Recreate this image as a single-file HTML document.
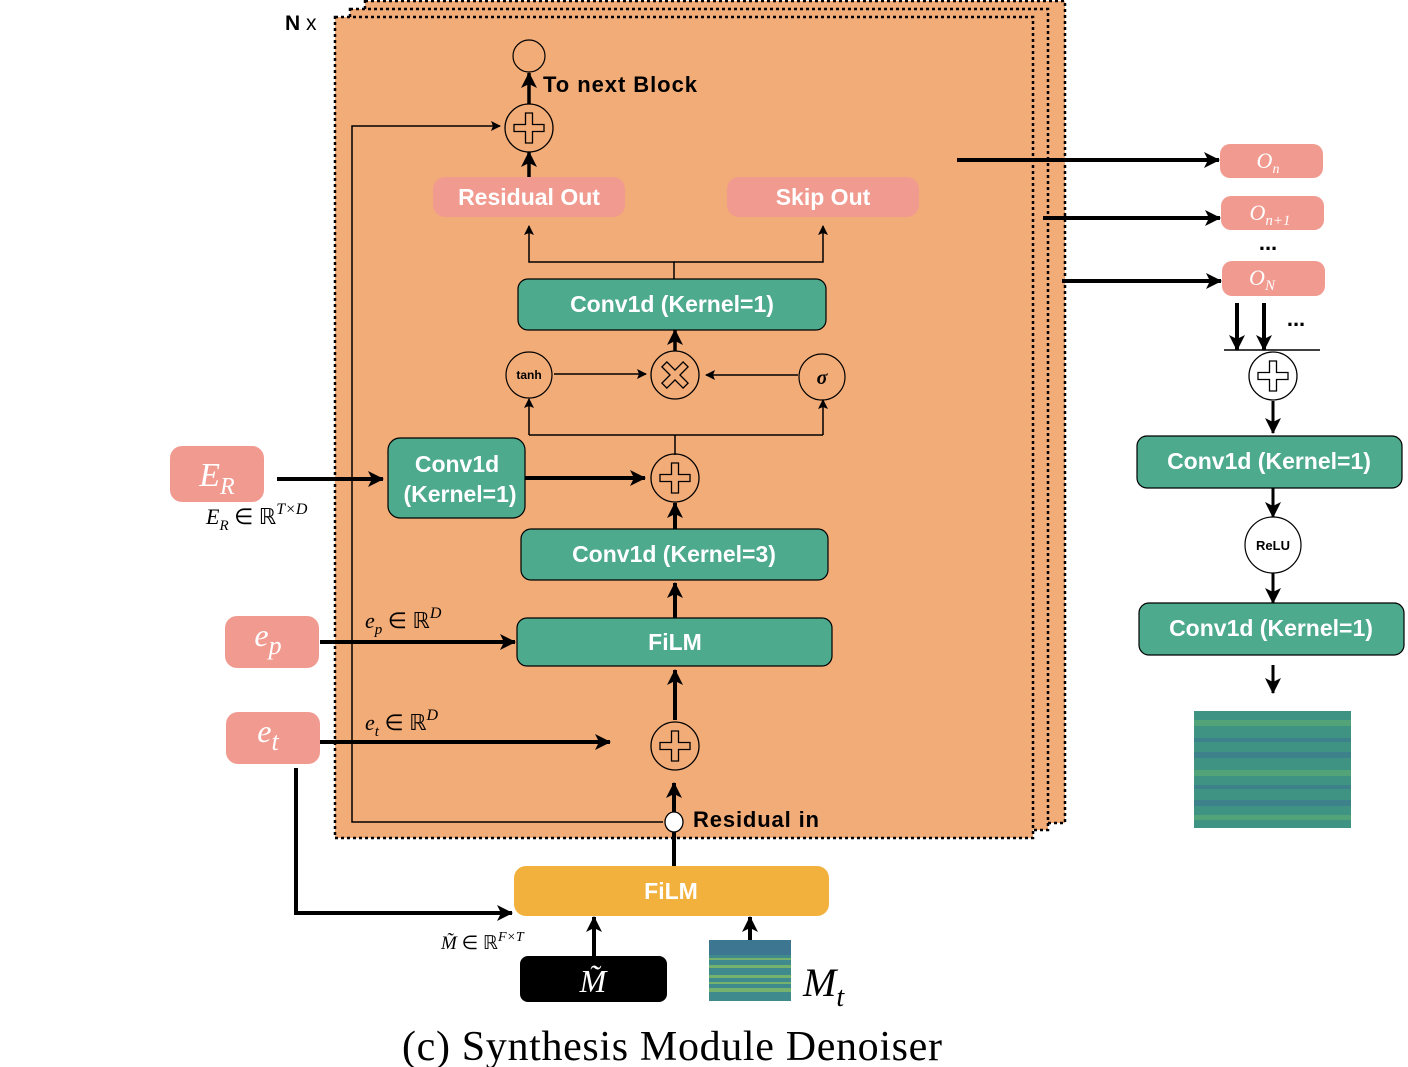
<!DOCTYPE html>
<html><head><meta charset="utf-8"><style>
html,body{margin:0;padding:0;background:#fff;}
svg{display:block;}
.s{font-family:"Liberation Sans",sans-serif;font-weight:bold;fill:#fff;text-anchor:middle;}
.m{font-family:"Liberation Serif",serif;font-style:italic;}
</style></head><body>
<svg width="1408" height="1067" viewBox="0 0 1408 1067" xmlns="http://www.w3.org/2000/svg">
<defs>
<marker id="a" markerUnits="userSpaceOnUse" markerWidth="16" markerHeight="16" refX="15" refY="8" orient="auto"><path d="M0,0 L16,8 L0,16 L4,8 z" fill="#000"/></marker>
<marker id="b" markerUnits="userSpaceOnUse" markerWidth="10" markerHeight="10" refX="9" refY="5" orient="auto"><path d="M0,0 L10,5 L0,10 L2,5 z" fill="#000"/></marker>
<g id="plus"><circle r="24" fill="none" stroke="#000" stroke-width="1.3"/><path d="M-3.5,-15 h7 v11.5 h11.5 v7 h-11.5 v11.5 h-7 v-11.5 h-11.5 v-7 h11.5 z" fill="none" stroke="#000" stroke-width="1.3"/></g>
<g id="plusw"><circle r="24" fill="#fff" stroke="#000" stroke-width="1.3"/><path d="M-3.5,-15 h7 v11.5 h11.5 v7 h-11.5 v11.5 h-7 v-11.5 h-11.5 v-7 h11.5 z" fill="none" stroke="#000" stroke-width="1.3"/></g>
</defs>
<rect x="365" y="1" width="700" height="822" fill="#F2AC78" stroke="#000" stroke-width="2.5" stroke-dasharray="3,3"/>
<rect x="350" y="9" width="698" height="821" fill="#F2AC78" stroke="#000" stroke-width="2.5" stroke-dasharray="3,3"/>
<rect x="335" y="17" width="698" height="821" fill="#F2AC78" stroke="#000" stroke-width="2.5" stroke-dasharray="3,3"/>
<text x="285" y="30" font-family="Liberation Sans,sans-serif" font-size="21" font-weight="bold">N <tspan font-weight="normal">x</tspan></text>

<circle cx="529" cy="56" r="16" fill="none" stroke="#000" stroke-width="1.2"/>
<line x1="529" y1="104" x2="529" y2="73" stroke="#000" stroke-width="3.5" marker-end="url(#a)"/>
<text x="543" y="92" font-family="Liberation Sans,sans-serif" font-size="22" font-weight="bold" textLength="154">To next Block</text>
<use href="#plus" x="529" y="128"/>
<line x1="529" y1="178" x2="529" y2="152" stroke="#000" stroke-width="3.5" marker-end="url(#a)"/>
<polyline points="663,822 352,822 352,126 500,126" fill="none" stroke="#000" stroke-width="1.5" marker-end="url(#b)"/>

<rect x="433" y="177" width="192" height="40" rx="12" fill="#F19A90"/>
<text x="529" y="205" class="s" font-size="23">Residual Out</text>
<rect x="727" y="177" width="192" height="40" rx="12" fill="#F19A90"/>
<text x="823" y="205" class="s" font-size="23">Skip Out</text>
<polyline points="674,279 674,262 529,262 529,226" fill="none" stroke="#000" stroke-width="1.5" marker-end="url(#b)"/>
<polyline points="674,262 823,262 823,226" fill="none" stroke="#000" stroke-width="1.5" marker-end="url(#b)"/>

<rect x="518" y="279" width="308" height="51" rx="10" fill="#4DAA8D" stroke="#000" stroke-width="1.2"/>
<text x="672" y="312" class="s" font-size="23">Conv1d (Kernel=1)</text>
<line x1="675" y1="351" x2="675" y2="330" stroke="#000" stroke-width="3.5" marker-end="url(#a)"/>

<circle cx="529" cy="375" r="23" fill="none" stroke="#000" stroke-width="1.2"/>
<text x="529" y="379" font-family="Liberation Sans,sans-serif" font-size="12" font-weight="bold" text-anchor="middle">tanh</text>
<g transform="translate(675,375)"><circle r="24" fill="none" stroke="#000" stroke-width="1.3"/><path d="M-3.5,-15 h7 v11.5 h11.5 v7 h-11.5 v11.5 h-7 v-11.5 h-11.5 v-7 h11.5 z" transform="rotate(45)" fill="none" stroke="#000" stroke-width="1.3"/></g>
<circle cx="822" cy="377" r="23" fill="none" stroke="#000" stroke-width="1.2"/>
<text x="822" y="384" class="m" font-size="20" text-anchor="middle" font-weight="bold">σ</text>
<line x1="554" y1="374" x2="646" y2="374" stroke="#000" stroke-width="1.5" marker-end="url(#b)"/>
<line x1="798" y1="375" x2="706" y2="375" stroke="#000" stroke-width="1.5" marker-end="url(#b)"/>
<polyline points="529,435 529,399" fill="none" stroke="#000" stroke-width="1.5" marker-end="url(#b)"/>
<polyline points="823,435 823,400" fill="none" stroke="#000" stroke-width="1.5" marker-end="url(#b)"/>
<polyline points="529,435 823,435" fill="none" stroke="#000" stroke-width="1.5"/>
<line x1="675" y1="435" x2="675" y2="455" stroke="#000" stroke-width="1.5"/>

<use href="#plus" x="675" y="478"/>
<rect x="388" y="438" width="137" height="80" rx="12" fill="#4DAA8D" stroke="#000" stroke-width="1.2"/>
<text x="457" y="472" class="s" font-size="23">Conv1d</text>
<text x="460" y="502" class="s" font-size="23">(Kernel=1)</text>
<line x1="525" y1="478" x2="645" y2="478" stroke="#000" stroke-width="4" marker-end="url(#a)"/>
<rect x="170" y="446" width="94" height="56" rx="12" fill="#F19A90"/>
<text x="217" y="486" class="m" font-size="34" fill="#fff" text-anchor="middle">E<tspan font-size="24" dy="8">R</tspan></text>
<line x1="277" y1="479" x2="383" y2="479" stroke="#000" stroke-width="4" marker-end="url(#a)"/>
<text x="206" y="524" class="m" font-size="22">E<tspan font-size="15" dy="6">R</tspan><tspan dy="-6" font-style="normal"> ∈ ℝ</tspan><tspan font-size="16" dy="-10">T×D</tspan></text>

<rect x="521" y="529" width="307" height="51" rx="10" fill="#4DAA8D" stroke="#000" stroke-width="1.2"/>
<text x="674" y="562" class="s" font-size="23">Conv1d (Kernel=3)</text>
<line x1="675" y1="529" x2="675" y2="503" stroke="#000" stroke-width="4" marker-end="url(#a)"/>

<rect x="517" y="618" width="315" height="48" rx="10" fill="#4DAA8D" stroke="#000" stroke-width="1.2"/>
<text x="675" y="650" class="s" font-size="23">FiLM</text>
<line x1="675" y1="618" x2="675" y2="583" stroke="#000" stroke-width="4" marker-end="url(#a)"/>
<rect x="225" y="616" width="94" height="52" rx="12" fill="#F19A90"/>
<text x="268" y="646" class="m" font-size="32" fill="#fff" text-anchor="middle">e<tspan font-size="26" dy="8">p</tspan></text>
<line x1="320" y1="642" x2="515" y2="642" stroke="#000" stroke-width="4" marker-end="url(#a)"/>
<text x="365" y="628" class="m" font-size="22">e<tspan font-size="15" dy="6">p</tspan><tspan dy="-6" font-style="normal"> ∈ ℝ</tspan><tspan font-size="16" dy="-10">D</tspan></text>

<use href="#plus" x="675" y="746"/>
<line x1="675" y1="720" x2="675" y2="670" stroke="#000" stroke-width="4" marker-end="url(#a)"/>
<rect x="226" y="712" width="94" height="52" rx="12" fill="#F19A90"/>
<text x="268" y="742" class="m" font-size="32" fill="#fff" text-anchor="middle">e<tspan font-size="26" dy="8">t</tspan></text>
<line x1="320" y1="742" x2="610" y2="742" stroke="#000" stroke-width="4" marker-end="url(#a)"/>
<text x="365" y="730" class="m" font-size="22">e<tspan font-size="15" dy="6">t</tspan><tspan dy="-6" font-style="normal"> ∈ ℝ</tspan><tspan font-size="16" dy="-10">D</tspan></text>

<line x1="674" y1="866" x2="674" y2="783" stroke="#000" stroke-width="4" marker-end="url(#a)"/>
<ellipse cx="674" cy="822" rx="9" ry="10" fill="#fff" stroke="#000" stroke-width="1.3"/>
<text x="693" y="827" font-family="Liberation Sans,sans-serif" font-size="22" font-weight="bold" textLength="126">Residual in</text>

<rect x="514" y="866" width="315" height="50" rx="12" fill="#F2B13C"/>
<text x="671" y="899" class="s" font-size="23">FiLM</text>
<polyline points="296,768 296,913 512,913" fill="none" stroke="#000" stroke-width="4" marker-end="url(#a)"/>
<text x="441" y="949" class="m" font-size="19">M̃<tspan font-style="normal"> ∈ ℝ</tspan><tspan font-size="14" dy="-8">F×T</tspan></text>
<rect x="520" y="956" width="147" height="46" rx="8" fill="#000"/>
<text x="593" y="992" class="m" font-size="32" fill="#fff" text-anchor="middle">M̃</text>
<line x1="594" y1="956" x2="594" y2="917" stroke="#000" stroke-width="4" marker-end="url(#a)"/>
<rect x="709" y="940" width="82" height="61" fill="#3f8a8c"/>
<g fill="#9acd5a" opacity="0.6"><rect x="709" y="965" width="82" height="3"/><rect x="709" y="975" width="82" height="3"/><rect x="709" y="988" width="82" height="4"/><rect x="709" y="958" width="82" height="2"/><rect x="709" y="982" width="82" height="2"/></g>
<rect x="709" y="940" width="82" height="15" fill="#3a5d96" opacity="0.45"/>
<line x1="750" y1="940" x2="750" y2="917" stroke="#000" stroke-width="4" marker-end="url(#a)"/>
<text x="803" y="996" class="m" font-size="40">M<tspan font-size="28" dy="10">t</tspan></text>

<text x="672" y="1060" font-family="Liberation Serif,serif" font-size="42" text-anchor="middle" textLength="540">(c) Synthesis Module Denoiser</text>

<line x1="957" y1="160" x2="1219" y2="160" stroke="#000" stroke-width="4" marker-end="url(#a)"/>
<rect x="1220" y="144" width="103" height="34" rx="10" fill="#F19A90"/>
<text x="1268" y="168" class="m" font-size="22" fill="#fff" text-anchor="middle">O<tspan font-size="14" dy="5">n</tspan></text>
<line x1="1043" y1="218" x2="1220" y2="218" stroke="#000" stroke-width="4" marker-end="url(#a)"/>
<rect x="1221" y="196" width="103" height="34" rx="10" fill="#F19A90"/>
<text x="1270" y="220" class="m" font-size="22" fill="#fff" text-anchor="middle">O<tspan font-size="15" dy="5">n+1</tspan></text>
<text x="1268" y="250" font-family="Liberation Sans,sans-serif" font-size="22" font-weight="bold" text-anchor="middle">...</text>
<line x1="1062" y1="281" x2="1221" y2="281" stroke="#000" stroke-width="4" marker-end="url(#a)"/>
<rect x="1222" y="261" width="103" height="35" rx="10" fill="#F19A90"/>
<text x="1262" y="285" class="m" font-size="22" fill="#fff" text-anchor="middle">O<tspan font-size="15" dy="5">N</tspan></text>
<line x1="1237" y1="303" x2="1237" y2="350" stroke="#000" stroke-width="4" marker-end="url(#a)"/>
<line x1="1264" y1="303" x2="1264" y2="350" stroke="#000" stroke-width="4" marker-end="url(#a)"/>
<text x="1296" y="326" font-family="Liberation Sans,sans-serif" font-size="22" font-weight="bold" text-anchor="middle">...</text>
<line x1="1224" y1="350" x2="1320" y2="350" stroke="#000" stroke-width="1.5"/>
<use href="#plusw" x="1273" y="376"/>
<line x1="1273" y1="401" x2="1273" y2="433" stroke="#000" stroke-width="3" marker-end="url(#a)"/>
<rect x="1137" y="436" width="265" height="52" rx="10" fill="#4DAA8D" stroke="#000" stroke-width="1.2"/>
<text x="1269" y="469" class="s" font-size="23">Conv1d (Kernel=1)</text>
<line x1="1273" y1="488" x2="1273" y2="517" stroke="#000" stroke-width="3" marker-end="url(#a)"/>
<circle cx="1273" cy="545" r="28" fill="#fff" stroke="#000" stroke-width="1.2"/>
<text x="1273" y="550" font-family="Liberation Sans,sans-serif" font-size="13" font-weight="bold" text-anchor="middle">ReLU</text>
<line x1="1273" y1="573" x2="1273" y2="603" stroke="#000" stroke-width="3" marker-end="url(#a)"/>
<rect x="1139" y="603" width="265" height="52" rx="10" fill="#4DAA8D" stroke="#000" stroke-width="1.2"/>
<text x="1271" y="636" class="s" font-size="23">Conv1d (Kernel=1)</text>
<line x1="1273" y1="665" x2="1273" y2="693" stroke="#000" stroke-width="3" marker-end="url(#a)"/>
<rect x="1194" y="711" width="157" height="117" fill="#3f9383"/>
<g opacity="0.45"><rect x="1194" y="720" width="157" height="6" fill="#6ab86a"/><rect x="1194" y="738" width="157" height="4" fill="#3b6f95"/><rect x="1194" y="752" width="157" height="6" fill="#3b6f95"/><rect x="1194" y="770" width="157" height="6" fill="#6ab86a"/><rect x="1194" y="785" width="157" height="4" fill="#3b6f95"/><rect x="1194" y="800" width="157" height="6" fill="#3b6f95"/><rect x="1194" y="815" width="157" height="5" fill="#6ab86a"/></g>
</svg>
</body></html>
